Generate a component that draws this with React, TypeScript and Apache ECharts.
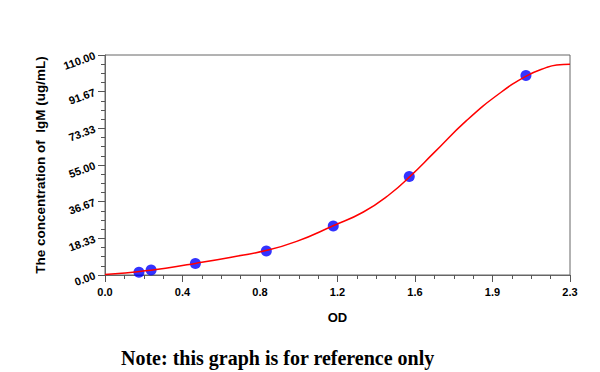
import React, { useEffect, useRef } from "react";
import * as echarts from "echarts";

const xTickLabels = ["0.0", "0.4", "0.8", "1.2", "1.6", "1.9", "2.3"];
const yTickLabels = ["0.00", "18.33", "36.67", "55.00", "73.33", "91.67", "110.00"];

const pointOD = [0.168, 0.228, 0.447, 0.798, 1.129, 1.505, 2.082];
const pointConc = [1.35, 2.5, 5.7, 12.0, 24.5, 49.3, 99.7];

const curveOD = [0, 0.1, 0.2, 0.3, 0.447, 0.618, 0.796, 0.948, 1.126, 1.278, 1.41, 1.509, 1.624, 1.789, 1.954, 2.086, 2.185, 2.234, 2.3];
const curveConc = [0.3, 1.0, 2.1, 3.4, 5.8, 8.8, 12.2, 16.8, 24.5, 31.5, 40.5, 49.3, 60.8, 77.3, 91.0, 99.6, 103.8, 105.0, 105.4];

const X_MAX = 2.3;
const Y_MAX = 110;

export default function App() {
  const ref = useRef<HTMLDivElement>(null);
  useEffect(() => {
    if (!ref.current) return;
    const chart = echarts.init(ref.current, null, { renderer: "svg" });
    const xStep = X_MAX / 6;
    const yStep = Y_MAX / 6;
    chart.setOption({
      animation: false,
      backgroundColor: "#ffffff",
      grid: {
        left: 105,
        right: 30,
        top: 55,
        bottom: 97,
        show: true,
        borderColor: "#666",
        borderWidth: 1,
      },
      xAxis: {
        type: "value",
        min: 0,
        max: X_MAX,
        interval: xStep,
        name: "OD",
        nameLocation: "middle",
        nameGap: 36,
        nameTextStyle: { fontFamily: "Liberation Sans", fontSize: 13, fontWeight: "bold", color: "#000" },
        axisLine: { lineStyle: { color: "#666" } },
        axisTick: { show: true, length: 7, lineStyle: { color: "#555" } },
        minorTick: { show: true, splitNumber: 4, length: 4, lineStyle: { color: "#555" } },
        splitLine: { show: false },
        axisLabel: {
          margin: 11,
          fontFamily: "Liberation Sans",
          fontSize: 11,
          fontWeight: "bold",
          color: "#000",
          formatter: (v: number) => xTickLabels[Math.round(v / xStep)] ?? "",
        },
      },
      yAxis: {
        type: "value",
        min: 0,
        max: Y_MAX,
        interval: yStep,
        name: "The concentration of  IgM (ug/mL)",
        nameLocation: "middle",
        nameGap: 58,
        nameTextStyle: { fontFamily: "Liberation Sans", fontSize: 13.5, fontWeight: "bold", color: "#000" },
        axisLine: { lineStyle: { color: "#666" } },
        axisTick: { show: true, length: 7, lineStyle: { color: "#555" } },
        minorTick: { show: true, splitNumber: 4, length: 4, lineStyle: { color: "#555" } },
        splitLine: { show: false },
        axisLabel: {
          margin: 10,
          rotate: 20,
          fontFamily: "Liberation Sans",
          fontSize: 11,
          fontWeight: "bold",
          color: "#000",
          formatter: (v: number) => yTickLabels[Math.round(v / yStep)] ?? "",
        },
      },
      series: [
        {
          type: "scatter",
          data: pointOD.map((x, i) => [x, pointConc[i]]),
          symbolSize: 11,
          itemStyle: { color: "#0000ff" },
          z: 2,
        },
        {
          type: "line",
          data: curveOD.map((x, i) => [x, curveConc[i]]),
          smooth: true,
          showSymbol: false,
          symbol: "none",
          lineStyle: { color: "#ff0000", width: 1.5 },
          z: 3,
        },
      ],
      graphic: [
        {
          type: "text",
          x: 121,
          y: 358,
          style: {
            text: "Note: this graph is for reference only",
            fontFamily: "Liberation Serif",
            fontSize: 20,
            fontWeight: "bold",
            fill: "#000",
            verticalAlign: "middle",
          },
        },
      ],
    });
    return () => chart.dispose();
  }, []);
  return <div ref={ref} style={{ width: 600, height: 372, position: "absolute", left: 0, top: 0 }} />;
}
